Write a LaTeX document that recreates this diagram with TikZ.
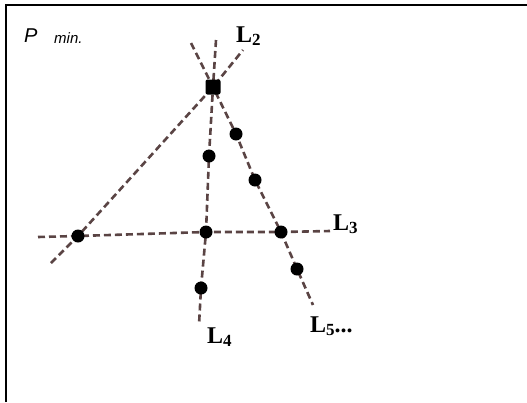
\documentclass[tikz,border=0pt]{standalone}
\usepackage{fontspec}
\setmainfont{Liberation Serif}
\setsansfont{Liberation Sans}
\usetikzlibrary{positioning}

\definecolor{lineclr}{HTML}{5A4444}

\newcommand{\Lname}[1]{\textbf{L\raisebox{-0.3ex}{\fontsize{17}{17}\selectfont #1}}}

\begin{document}
\begin{tikzpicture}[
    x=1pt, y=-1pt,
    dot/.style={circle, fill=black, minimum size=13pt, inner sep=0pt},
    bigdot/.style={rectangle, rounded corners=2pt, fill=black, minimum size=15pt, inner sep=0pt},
    dline/.style={draw=lineclr, line width=2.6pt, dash pattern=on 7pt off 4pt},
    lbl/.style={anchor=base west, inner sep=0pt, font=\fontsize{24}{24}\selectfont}
]

% --- Canvas and frame ---
\useasboundingbox (0,0) rectangle (527,402);
\draw[line width=1.5pt] (6,402) -- (6,5) -- (527,5);

% --- Points on the lines ---
\coordinate (pm)  at (213,87);
\coordinate (a)   at (78,236);
\coordinate (b)   at (206,232);
\coordinate (c)   at (281,232);
\coordinate (d41) at (209,156);
\coordinate (d42) at (201,288);
\coordinate (d51) at (236,134);
\coordinate (d52) at (255,180);
\coordinate (d53) at (297,269);

% --- Free ends of the lines ---
\coordinate (l2s) at (51,263);
\coordinate (l2e) at (243,50);
\coordinate (l3s) at (38,237);
\coordinate (l3e) at (330,231);
\coordinate (l4s) at (216,40);
\coordinate (l4e) at (199,325);
\coordinate (l5s) at (191,43);
\coordinate (l5e) at (313,305);

% --- Dashed lines ---
\draw[dline] (l2s) -- (a) -- (pm) -- (l2e);
\draw[dline] (l3s) -- (a) -- (b) -- (c) -- (l3e);
\draw[dline] (l4s) -- (pm) -- (d41) -- (b) -- (d42) -- (l4e);
\draw[dline] (l5s) -- (pm) -- (d51) -- (d52) -- (c) -- (d53) -- (l5e);

% --- Dots ---
\node[bigdot] (npm) at (pm) {};
\foreach \p in {a,b,c,d41,d42,d51,d52,d53}
    \node[dot] (n\p) at (\p) {};

% --- Labels ---
\node[lbl] (lab2) at (236,42)  {\Lname{2}};
\node[lbl] (lab3) at (333,230) {\Lname{3}};
\node[lbl] (lab4) at (207,343) {\Lname{4}};
\node[lbl] (lab5) at (310,332) {\Lname{5}\textbf{...}};

\node[anchor=base west, inner sep=0pt, font=\sffamily\itshape\fontsize{20}{20}\selectfont] (pmin) at (24,42) {P};
\node[anchor=base west, inner sep=0pt, font=\sffamily\itshape\fontsize{15}{15}\selectfont] (pminsub) at (54,43) {min.};

\end{tikzpicture}
\end{document}
